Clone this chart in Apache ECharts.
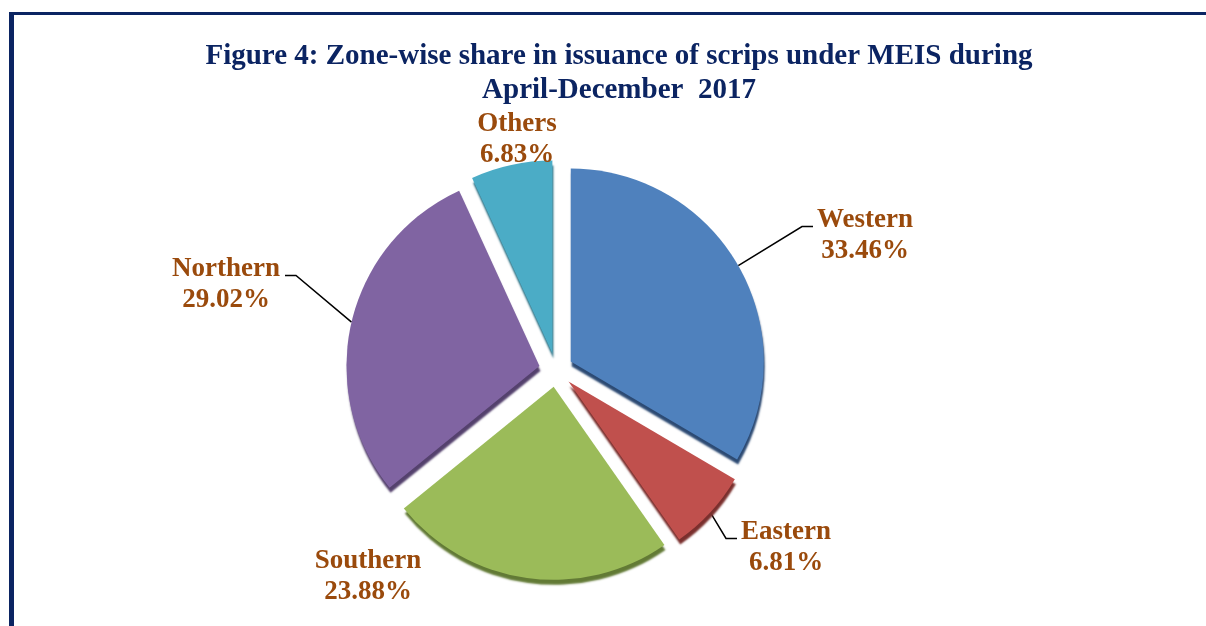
<!DOCTYPE html>
<html>
<head>
<meta charset="utf-8">
<script src="https://cdn.jsdelivr.net/npm/echarts@6/dist/echarts.min.js"></script>
<style>
  html, body { margin: 0; padding: 0; background: #fff; }
  #chart { width: 1206px; height: 626px; }
</style>
</head>
<body>
<div id="chart"></div>
<script>
// zone-wise share (%), clockwise from 12 o'clock
const zones = ['Western', 'Eastern', 'Southern', 'Northern', 'Others']
const shares = [33.46, 6.81, 23.88, 29.02, 6.83]
const colors = ['#4f81bd', '#c0504d', '#9bbb59', '#8064a2', '#4bacc6']
const edgeColors = ['#2c4a73', '#7a2f2d', '#627a35', '#54416d', '#2d7184']
const noLine = ['Southern', 'Others']

// where each label block sits (centre of text)
const labelSpots = {
  Western: [865, 236],
  Eastern: [786, 548],
  Southern: [368, 577],
  Northern: [226, 285],
  Others: [517, 140]
}

const navy = '#0b2462'
const brown = '#9a4a0c'
const explode = 17

// exploded offset of every slice (labels + lines live in the slice's own frame)
const total = shares.reduce((a, b) => a + b, 0)
let acc = 0
const sliceShift = shares.map(v => {
  const mid = (90 - (acc + v / 2) / total * 360) * Math.PI / 180
  acc += v
  return [explode * Math.cos(mid), -explode * Math.sin(mid)]
})

const myChart = echarts.init(document.getElementById('chart'))

const data = zones.map((name, i) => ({
  name: name,
  value: shares[i],
  selected: true,
  itemStyle: { color: colors[i], shadowColor: edgeColors[i] },
  labelLine: { show: noLine.indexOf(name) < 0 }
}))

myChart.setOption({
  animation: false,
  title: {
    text: 'Figure 4: Zone-wise share in issuance of scrips under MEIS during\nApril-December  2017',
    left: 614,
    top: 35,
    textAlign: 'center',
    textStyle: {
      fontFamily: 'Liberation Serif',
      fontWeight: 'bold',
      fontSize: 29,
      lineHeight: 34,
      color: navy
    }
  },
  graphic: [
    { type: 'rect', shape: { x: 9, y: 12, width: 1197, height: 3 }, style: { fill: navy } },
    { type: 'rect', shape: { x: 9, y: 12, width: 5, height: 614 }, style: { fill: navy } }
  ],
  series: [
    {
      type: 'pie',
      center: [556, 370],
      radius: 193,
      startAngle: 90,
      clockwise: true,
      selectedMode: 'multiple',
      selectedOffset: explode,
      emphasis: { disabled: true },
      itemStyle: {
        shadowBlur: 2,
        shadowOffsetX: 1,
        shadowOffsetY: 5
      },
      label: {
        show: true,
        position: 'outside',
        formatter: p => p.name + '\n' + p.value.toFixed(2) + '%',
        fontFamily: 'Liberation Serif',
        fontWeight: 'bold',
        fontSize: 27,
        lineHeight: 31,
        color: brown,
        align: 'center'
      },
      labelLine: {
        length: 30,
        length2: 15,
        lineStyle: { color: '#000', width: 1.5 }
      },
      labelLayout: function (params) {
        const i = params.dataIndex
        const name = zones[i]
        const spot = labelSpots[name]
        const sh = sliceShift[i]
        const r = params.labelRect
        // anchor keeps the default alignment, text is then centred on it
        let anchorX = r.x + r.width / 2
        if (params.align === 'left') anchorX = r.x
        if (params.align === 'right') anchorX = r.x + r.width
        const out = {
          dx: spot[0] - anchorX - sh[0],
          dy: spot[1] - (r.y + r.height / 2) - sh[1],
          align: 'center',
          verticalAlign: 'middle'
        }
        if (noLine.indexOf(name) < 0 && params.labelLinePoints) {
          const start = params.labelLinePoints[0]
          const lineY = spot[1] - 9.5 - sh[1]
          const toRight = spot[0] > start[0] + sh[0]
          const endX = (toRight ? spot[0] - r.width / 2 - 4 : spot[0] + r.width / 2 + 5) - sh[0]
          const elbowX = toRight ? endX - 11 : endX + 11
          out.labelLinePoints = [start, [elbowX, lineY], [endX, lineY]]
        }
        return out
      },
      data: data
    }
  ]
})

window.onresize = function () {
  myChart.resize()
}
</script>
</body>
</html>
